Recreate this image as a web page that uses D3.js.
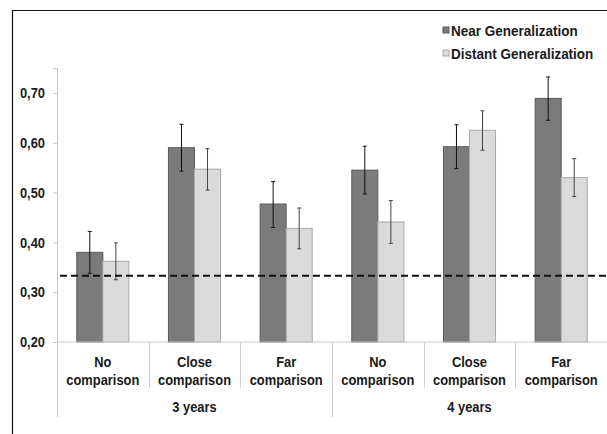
<!DOCTYPE html>
<html>
<head>
<meta charset="utf-8">
<script src="https://cdnjs.cloudflare.com/ajax/libs/d3/7.8.5/d3.min.js"></script>
<style>
  body { margin: 0; background: #fff; }
  text { font-family: "Liberation Sans", Arial, sans-serif; font-weight: bold; fill: #1a1a1a; }
</style>
</head>
<body>
<div class="chart"></div>
<script>
var groups = ["3 years", "4 years"];
var conditions = ["No comparison", "Close comparison", "Far comparison"];
var series = ["Near Generalization", "Distant Generalization"];

// means and error bar ends (low, high), in category order 3y then 4y
var nearMean = [0.380, 0.590, 0.477, 0.545, 0.592, 0.689];
var nearLow  = [0.338, 0.543, 0.430, 0.497, 0.548, 0.645];
var nearHigh = [0.422, 0.637, 0.522, 0.593, 0.636, 0.732];
var distMean = [0.362, 0.547, 0.428, 0.441, 0.625, 0.530];
var distLow  = [0.325, 0.505, 0.387, 0.398, 0.585, 0.492];
var distHigh = [0.399, 0.588, 0.469, 0.484, 0.664, 0.568];

var chanceLevel = 0.333;
var yTicks = [0.2, 0.3, 0.4, 0.5, 0.6, 0.7];

var width = 607, height = 434;
var margin = { left: 57, right: 0, top: 68, bottom: 92 };

var svg = d3.select(".chart").append("svg")
    .attr("width", width)
    .attr("height", height);

// the original font is a narrow bold face; squeeze regular bold horizontally
function squeeze(sel, k) {
    sel.each(function() {
        var t = d3.select(this);
        t.attr("transform", "scale(" + k + ",1)");
        t.selectAll("tspan").each(function() {
            var s = d3.select(this);
            if (s.attr("x") != null) s.attr("x", +s.attr("x") / k);
        });
        if (t.attr("x") != null) t.attr("x", +t.attr("x") / k);
    });
}

// outer frame (cut off at right and bottom in the original)
svg.append("path")
    .attr("d", "M12.5," + height + "V10.5H" + width)
    .attr("fill", "none")
    .attr("stroke", "#111")
    .attr("stroke-width", 1.2);

// one column per (group, condition)
var cats = [];
groups.forEach(function(g) {
    conditions.forEach(function(c) { cats.push(g + "|" + c); });
});

var x0 = d3.scaleBand()
    .domain(cats)
    .range([margin.left, width - margin.right]);

var x1 = d3.scaleBand()
    .domain(series)
    .range([0, x0.bandwidth()])
    .paddingOuter(0.76);

var y = d3.scaleLinear()
    .domain([0.2, 0.75])
    .range([height - margin.bottom, margin.top]);

var colors = { "Near Generalization": "#7b7b7b", "Distant Generalization": "#dadada" };
var strokes = { "Near Generalization": "#5a5a5a", "Distant Generalization": "#a8a8a8" };
var errColor = { "Near Generalization": "#111", "Distant Generalization": "#444" };

var rows = [];
cats.forEach(function(c, i) {
    rows.push({ cat: c, s: series[0], v: nearMean[i], lo: nearLow[i], hi: nearHigh[i] });
    rows.push({ cat: c, s: series[1], v: distMean[i], lo: distLow[i], hi: distHigh[i] });
});

// y axis
var yAxis = svg.append("g")
    .attr("transform", "translate(" + margin.left + ",0)")
    .call(d3.axisLeft(y).tickValues(yTicks).tickSize(4).tickPadding(8)
        .tickFormat(function(d) { return d3.format(".2f")(d).replace(".", ","); }));
yAxis.select(".domain").attr("stroke", "#c8c8c8");
yAxis.selectAll(".tick line").attr("stroke", "#c8c8c8");
yAxis.selectAll("text").attr("font-size", 15).attr("fill", "#1a1a1a")
    .attr("font-family", "'Liberation Sans', Arial, sans-serif").attr("font-weight", "bold");
squeeze(yAxis.selectAll("text"), 0.86);

// bars
svg.append("g").selectAll("rect")
    .data(rows)
    .join("rect")
    .attr("x", function(d) { return x0(d.cat) + x1(d.s); })
    .attr("width", x1.bandwidth())
    .attr("y", function(d) { return y(d.v); })
    .attr("height", function(d) { return y(0.2) - y(d.v); })
    .attr("fill", function(d) { return colors[d.s]; })
    .attr("stroke", function(d) { return strokes[d.s]; })
    .attr("stroke-width", 1);

// error bars
var err = svg.append("g").selectAll("g")
    .data(rows)
    .join("g")
    .attr("stroke", function(d) { return errColor[d.s]; })
    .attr("stroke-width", 1);
err.append("line")
    .attr("x1", function(d) { return x0(d.cat) + x1(d.s) + x1.bandwidth() / 2; })
    .attr("x2", function(d) { return x0(d.cat) + x1(d.s) + x1.bandwidth() / 2; })
    .attr("y1", function(d) { return y(d.lo); })
    .attr("y2", function(d) { return y(d.hi); });
err.selectAll(".cap")
    .data(function(d) { return [d.lo, d.hi].map(function(v) { return { d: d, v: v }; }); })
    .join("line")
    .attr("class", "cap")
    .attr("x1", function(e) { return x0(e.d.cat) + x1(e.d.s) + x1.bandwidth() / 2 - 2; })
    .attr("x2", function(e) { return x0(e.d.cat) + x1(e.d.s) + x1.bandwidth() / 2 + 2; })
    .attr("y1", function(e) { return y(e.v); })
    .attr("y2", function(e) { return y(e.v); });

// x axis line and separators
var base = y(0.2);
svg.append("line")
    .attr("x1", margin.left).attr("x2", width)
    .attr("y1", base).attr("y2", base)
    .attr("stroke", "#c8c8c8");

svg.append("g").selectAll("line")
    .data(cats)
    .join("line")
    .attr("x1", function(c) { return Math.round(x0(c)) + 0.5; })
    .attr("x2", function(c) { return Math.round(x0(c)) + 0.5; })
    .attr("y1", base)
    .attr("y2", function(c, i) { return i % conditions.length === 0 ? base + 75 : base + 46; })
    .attr("stroke", "#d0d0d0");

// category labels (two lines)
var catLabels = svg.append("g").selectAll("text")
    .data(cats)
    .join("text")
    .attr("text-anchor", "middle")
    .attr("font-size", 15)
    .attr("x", function(c) { return x0(c) + x0.bandwidth() / 2; });
catLabels.append("tspan")
    .attr("x", function(c) { return x0(c) + x0.bandwidth() / 2; })
    .attr("y", base + 25)
    .text(function(c) { return c.split("|")[1].split(" ")[0]; });
catLabels.append("tspan")
    .attr("x", function(c) { return x0(c) + x0.bandwidth() / 2; })
    .attr("y", base + 43)
    .text(function(c) { return c.split("|")[1].split(" ")[1]; });
squeeze(catLabels, 0.86);

// group labels
var groupLabels = svg.append("g").selectAll("text")
    .data(groups)
    .join("text")
    .attr("text-anchor", "middle")
    .attr("font-size", 15)
    .attr("x", function(g) {
        return (x0(g + "|" + conditions[0]) + x0(g + "|" + conditions[2]) + x0.bandwidth()) / 2;
    })
    .attr("y", base + 70)
    .text(function(g) { return g; });
squeeze(groupLabels, 0.86);

// chance line
svg.append("line")
    .attr("x1", margin.left + 3).attr("x2", width)
    .attr("y1", y(chanceLevel)).attr("y2", y(chanceLevel))
    .attr("stroke", "#111")
    .attr("stroke-width", 2)
    .attr("stroke-dasharray", "7,4");

// legend
var legend = svg.append("g").selectAll("g")
    .data(series)
    .join("g")
    .attr("transform", function(d, i) { return "translate(443," + (27 + i * 23) + ")"; });
legend.append("rect")
    .attr("width", 6).attr("height", 6)
    .attr("fill", function(d) { return colors[d]; })
    .attr("stroke", function(d) { return strokes[d]; });
var legendText = legend.append("text")
    .attr("x", 8)
    .attr("y", 8.5)
    .attr("font-size", 15)
    .text(function(d) { return d; });
squeeze(legendText, 0.9);
</script>
</body>
</html>
